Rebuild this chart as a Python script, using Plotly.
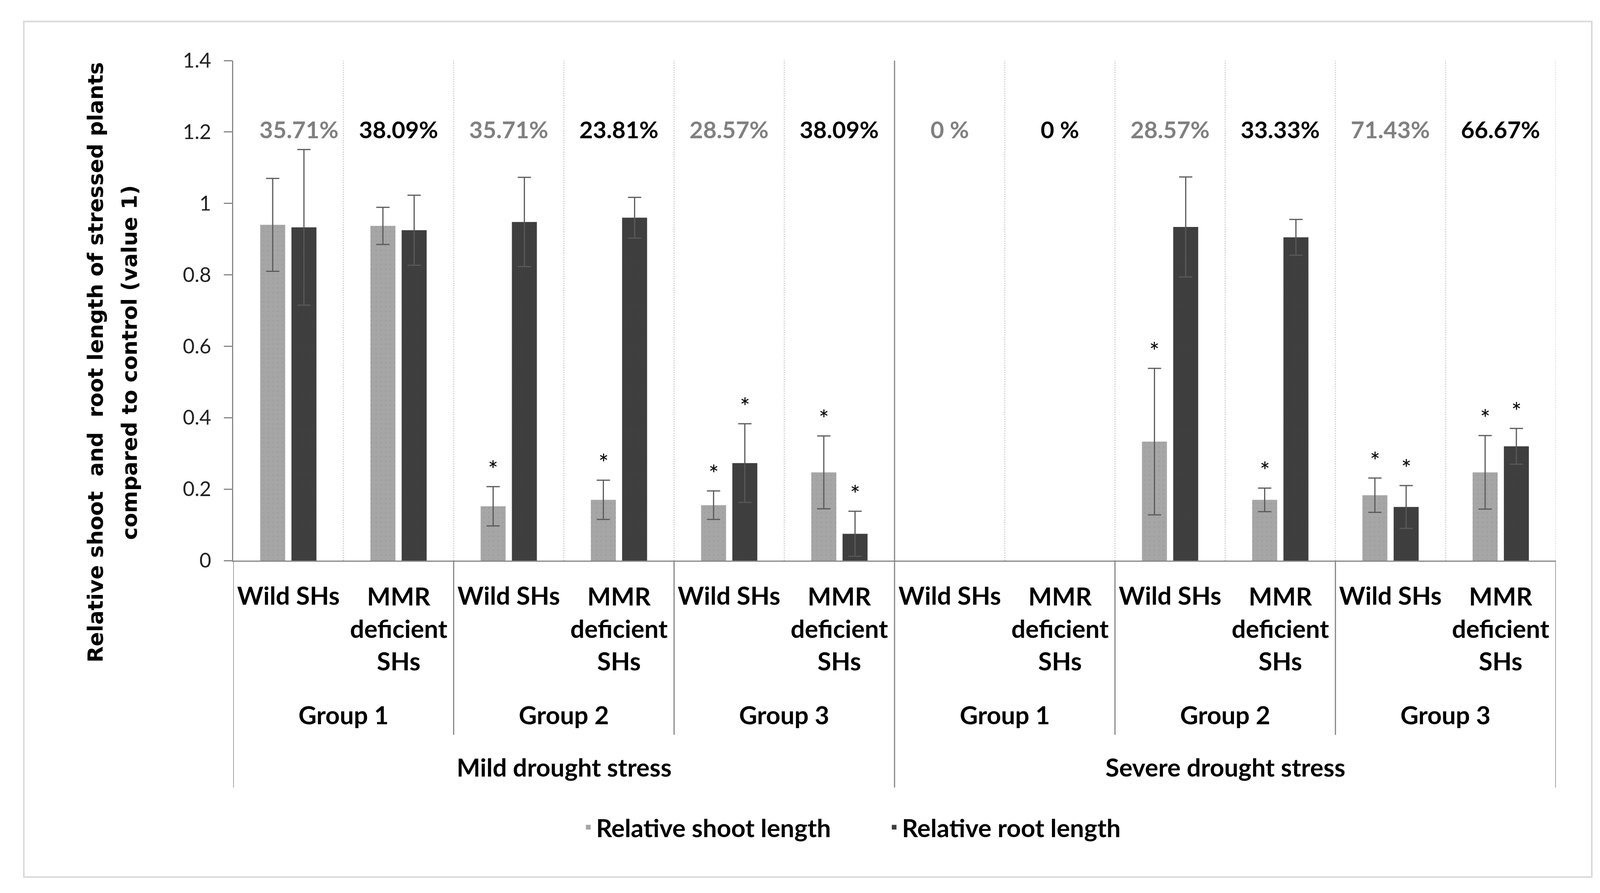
import plotly.graph_objects as go

# ---------------- data ----------------
stress_levels = ["Mild drought stress", "Severe drought stress"]
groups = ["Group 1", "Group 2", "Group 3"]
genotypes = ["Wild SHs", "MMR<br>deficient<br>SHs"]

shoot = [0.940, 0.937, 0.152, 0.170, 0.155, 0.247, None, None, 0.333, 0.170, 0.183, 0.247]
shoot_err = [0.130, 0.052, 0.055, 0.055, 0.040, 0.102, None, None, 0.205, 0.033, 0.048, 0.103]
root = [0.933, 0.925, 0.948, 0.960, 0.273, 0.075, None, None, 0.934, 0.905, 0.150, 0.320]
root_err = [0.218, 0.098, 0.125, 0.057, 0.110, 0.063, None, None, 0.140, 0.050, 0.060, 0.050]
percent_labels = ["35.71%", "38.09%", "35.71%", "23.81%", "28.57%", "38.09%",
                  "0 %", "0 %", "28.57%", "33.33%", "71.43%", "66.67%"]
shoot_sig = [False, False, True, True, True, True, False, False, True, True, True, True]
root_sig = [False, False, False, False, True, True, False, False, False, False, True, True]
y_title_lines = ["Relative shoot  and  root length of stressed plants",
                 "compared to control (value 1)"]

# ---------------- layout constants ----------------
W, H = 4123, 2286
L, R, T, B = 589, 3975, 147, 1427
BARGAP, BARGROUPGAP = 0.433, 0.2
PERCENT_Y = 1.207

LABEL_FONT = "Lato"
DARK_LINE = "#868686"
GRID = "#d0d0d0"


def px(xpix):
    return (xpix - L) / (R - L)


def py(ypix):
    return (B - ypix) / (B - T)


n_cat = len(stress_levels) * len(groups) * len(genotypes)
xs = list(range(n_cat))

fig = go.Figure()
err_style = dict(type="data", color="#595959", thickness=3, width=17, visible=True)
fig.add_trace(go.Bar(
    x=xs, y=shoot, name="Relative shoot length",
    error_y=dict(array=shoot_err, **err_style),
    marker=dict(color="#a6a6a6", line=dict(width=0),
                pattern=dict(shape=".", fgcolor="#959595", size=12, solidity=0.12)),
))
fig.add_trace(go.Bar(
    x=xs, y=root, name="Relative root length",
    error_y=dict(array=root_err, **err_style),
    marker=dict(color="#404040", line=dict(width=0),
                pattern=dict(shape=".", fgcolor="#333333", size=5, solidity=0.3)),
))

annotations = []
shapes = []

# percentage labels
for i, lab in enumerate(percent_labels):
    annotations.append(dict(
        x=xs[i], y=PERCENT_Y, xref="x", yref="y", text=lab, showarrow=False,
        xshift=27 if i == 0 else 0,
        font=dict(family=LABEL_FONT, size=60, color="#808080" if i % 2 == 0 else "#000000",
                  weight="bold"),
        xanchor="center", yanchor="middle"))

# significance asterisks
slot = (1 - BARGAP) / 2
for i in xs:
    if shoot_sig[i]:
        annotations.append(dict(x=xs[i] - slot / 2, y=shoot[i] + shoot_err[i], xref="x", yref="y",
                                text="*", showarrow=False, yanchor="middle", yshift=45,
                                font=dict(family=LABEL_FONT, size=62, color="#000000")))
    if root_sig[i]:
        annotations.append(dict(x=xs[i] + slot / 2, y=root[i] + root_err[i], xref="x", yref="y",
                                text="*", showarrow=False, yanchor="middle", yshift=45,
                                font=dict(family=LABEL_FONT, size=62, color="#000000")))

# hierarchical category labels
lab_font = dict(family=LABEL_FONT, size=64, color="#000000", weight="bold")
k = 0
for s_i, s in enumerate(stress_levels):
    s_start = k
    for g_i, g in enumerate(groups):
        g_start = k
        for gt in genotypes:
            ymid = 1515 if "<br>" not in gt else 1600
            annotations.append(dict(x=xs[k], y=py(ymid), xref="x", yref="paper", text=gt,
                                    showarrow=False, xanchor="center", yanchor="middle",
                                    font=lab_font))
            k += 1
        annotations.append(dict(x=(g_start + k - 1) / 2, y=py(1821), xref="x", yref="paper",
                                text=g, showarrow=False, xanchor="center", yanchor="middle",
                                font=lab_font))
        if g_i < len(groups) - 1:
            shapes.append(dict(type="line", xref="x", yref="paper", x0=k - 0.5, x1=k - 0.5,
                               y0=0, y1=py(1873), line=dict(color=DARK_LINE, width=3)))
    annotations.append(dict(x=(s_start + k - 1) / 2, y=py(1955), xref="x", yref="paper",
                            text=s, showarrow=False, xanchor="center", yanchor="middle",
                            font=lab_font))

# outer vertical separators below axis
for b in [-0.5, n_cat - 0.5]:
    shapes.append(dict(type="line", xref="x", yref="paper", x0=b, x1=b, y0=0, y1=py(2008),
                       line=dict(color=DARK_LINE, width=3)))
half = n_cat // 2
shapes.append(dict(type="line", xref="x", yref="paper", x0=half - 0.5, x1=half - 0.5,
                   y0=1, y1=py(2008), line=dict(color=DARK_LINE, width=3)))

# dotted gridlines between categories
for b in range(n_cat):
    bx = b + 0.5
    if bx == half - 0.5:
        continue
    shapes.append(dict(type="line", xref="x", yref="y", x0=bx, x1=bx, y0=0, y1=1.4,
                       line=dict(color=GRID, width=3, dash="dot"), layer="below"))

# outer border
shapes.append(dict(type="rect", xref="paper", yref="paper", x0=px(53), x1=px(4067),
                   y0=py(2237), y1=py(47), line=dict(color="#d9d9d9", width=4)))

# y axis title (two lines)
for line_text, xpix in zip(y_title_lines, [236, 323]):
    annotations.append(dict(
        x=px(xpix), y=py(920), xref="paper", yref="paper", textangle=-90, showarrow=False,
        text=line_text, xanchor="center", yanchor="middle",
        font=dict(family="DejaVu Sans", size=54, color="#000000", weight="bold")))

fig.update_layout(
    width=W, height=H,
    margin=dict(l=L, r=W - R, t=T, b=H - B, pad=0),
    paper_bgcolor="white", plot_bgcolor="white",
    barmode="group", bargap=BARGAP, bargroupgap=BARGROUPGAP,
    showlegend=True,
    legend=dict(orientation="h", x=px(1478), xanchor="left", y=py(2110), yanchor="middle",
                entrywidth=738, entrywidthmode="pixels",
                font=dict(family=LABEL_FONT, size=64, color="#000000", weight="bold"),
                bgcolor="rgba(0,0,0,0)"),
    annotations=annotations, shapes=shapes,
)
fig.update_xaxes(range=[-0.5, n_cat - 0.5], showticklabels=False, ticks="", showgrid=False,
                 zeroline=False, showline=True, linecolor=DARK_LINE, linewidth=3)
fig.update_yaxes(range=[0, 1.4], dtick=0.2, tick0=0, showgrid=False, zeroline=False,
                 showline=True, linecolor=DARK_LINE, linewidth=3,
                 ticks="outside", ticklen=21, tickwidth=3, tickcolor=DARK_LINE,
                 ticklabelstandoff=22,
                 tickfont=dict(family=LABEL_FONT, size=52, color="#222222"))

fig.write_html("out.html")
